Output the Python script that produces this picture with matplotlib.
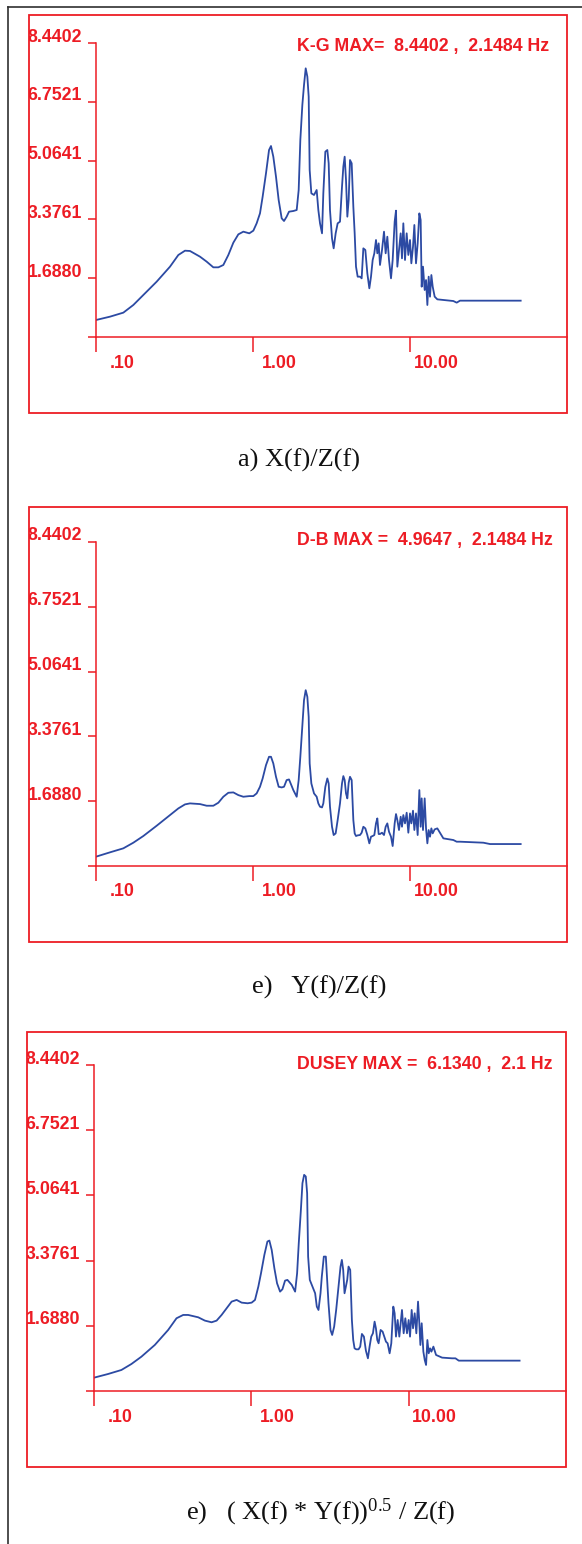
import matplotlib
matplotlib.use("Agg")
import matplotlib.pyplot as plt
from matplotlib.patches import Rectangle
from matplotlib.lines import Line2D
from matplotlib.transforms import ScaledTranslation, Bbox, TransformedBbox

# ---- data ----
freq_hz = [
    0.100, 0.1228, 0.1493, 0.1729, 0.2002, 0.2435, 0.2960, 0.3345, 0.3689, 0.3969,
    0.4597, 0.5069, 0.5589, 0.6015, 0.6471, 0.6965, 0.7495, 0.8065, 0.8679, 0.9475,
    1.005, 1.055, 1.108, 1.152, 1.210, 1.265, 1.302, 1.347, 1.401, 1.457,
    1.523, 1.576, 1.638, 1.696, 1.807, 1.898, 1.954, 2.002, 2.062, 2.113,
    2.166, 2.219, 2.263, 2.296, 2.353, 2.447, 2.544, 2.607, 2.672, 2.752,
    2.805, 2.889, 2.975, 3.034, 3.093, 3.186, 3.264, 3.361, 3.461, 3.582,
    3.689, 3.762, 3.836, 3.912, 3.989, 4.068, 4.148, 4.251, 4.356, 4.442,
    4.530, 4.642, 4.803, 4.922, 5.044, 5.194, 5.348, 5.508, 5.644, 5.784,
    5.927, 6.073, 6.193, 6.316, 6.441, 6.633, 6.830, 6.998, 7.171, 7.349,
    7.568, 7.755, 7.986, 8.144, 8.305, 8.510, 8.722, 8.892, 9.068, 9.294,
    9.523, 9.759, 10.00, 10.20, 10.45, 10.66, 10.92, 11.19, 11.47, 11.69,
    11.87, 12.10, 12.40, 12.65, 12.90, 13.15, 13.41, 13.68, 13.95, 14.36,
    14.93, 16.31, 18.88, 19.83, 20.82, 29.32, 32.33, 50.69,
]

kg_ratio = [
    0.488, 0.584, 0.699, 0.919, 1.206, 1.589, 2.019, 2.354, 2.478, 2.469,
    2.306, 2.163, 2.000, 2.000, 2.067, 2.354, 2.708, 2.947, 3.024, 2.976,
    3.053, 3.263, 3.550, 4.029, 4.699, 5.368, 5.483, 5.177, 4.603, 3.933,
    3.407, 3.330, 3.455, 3.598, 3.617, 3.646, 4.220, 5.656, 6.660, 7.234,
    7.713, 7.474, 6.900, 4.794, 4.124, 4.077, 4.220, 3.646, 3.263, 2.976,
    4.124, 5.321, 5.368, 4.986, 3.646, 2.833, 2.545, 2.976, 3.263, 3.311,
    4.316, 4.890, 5.177, 4.507, 3.455, 3.933, 5.081, 4.986, 3.742, 2.976,
    2.019, 1.732, 1.732, 1.684, 2.545, 2.498, 1.828, 1.397, 1.732, 2.211,
    2.402, 2.785, 2.402, 2.689, 2.067, 2.498, 3.024, 2.402, 2.880, 2.211,
    1.684, 2.211, 3.311, 3.627, 2.019, 2.498, 2.976, 2.258, 3.263, 2.211,
    2.976, 2.354, 2.785, 2.115, 2.593, 3.215, 2.115, 2.689, 3.550, 3.359,
    1.445, 2.019, 1.349, 1.636, 0.919, 1.732, 1.158, 1.780, 1.445, 1.158,
    1.081, 1.062, 1.033, 0.986, 1.043, 1.043, 1.043, 1.043,
]

db_ratio = [
    0.243, 0.356, 0.460, 0.607, 0.781, 1.049, 1.327, 1.500, 1.605, 1.631,
    1.613, 1.570, 1.570, 1.648, 1.804, 1.908, 1.917, 1.847, 1.804, 1.821,
    1.821, 1.891, 2.064, 2.281, 2.628, 2.845, 2.845, 2.671, 2.324, 2.064,
    2.047, 2.064, 2.238, 2.255, 1.977, 1.804, 2.238, 2.845, 3.669, 4.319,
    4.580, 4.406, 3.886, 2.671, 2.151, 1.891, 1.804, 1.631, 1.544, 1.526,
    1.631, 2.064, 2.281, 2.151, 1.544, 1.023, 0.807, 0.850, 1.197, 1.631,
    2.151, 2.342, 2.238, 1.891, 1.761, 2.168, 2.324, 2.238, 1.197, 0.850,
    0.781, 0.798, 0.807, 0.867, 1.023, 0.980, 0.807, 0.590, 0.763, 0.781,
    0.807, 1.110, 1.240, 0.833, 0.833, 0.867, 0.807, 1.023, 1.110, 0.893,
    0.763, 0.520, 1.110, 1.353, 1.197, 0.937, 1.284, 1.023, 1.327, 1.110,
    1.388, 0.867, 1.370, 1.110, 1.440, 0.937, 1.370, 0.807, 1.977, 1.023,
    1.761, 0.937, 1.761, 0.980, 0.590, 0.937, 0.763, 0.980, 0.850, 0.954,
    0.980, 0.720, 0.677, 0.633, 0.633, 0.607, 0.572, 0.572,
]

dusey_ratio = [
    0.345, 0.440, 0.544, 0.699, 0.889, 1.192, 1.580, 1.883, 1.969, 1.969,
    1.908, 1.822, 1.779, 1.822, 1.969, 2.142, 2.314, 2.358, 2.288, 2.271,
    2.288, 2.358, 2.703, 3.048, 3.523, 3.869, 3.895, 3.653, 3.178, 2.789,
    2.573, 2.634, 2.858, 2.876, 2.746, 2.573, 3.048, 3.826, 4.646, 5.380,
    5.596, 5.553, 5.121, 3.480, 2.876, 2.703, 2.530, 2.185, 2.098, 2.530,
    2.962, 3.480, 3.480, 2.876, 2.271, 1.580, 1.451, 1.667, 2.098, 2.703,
    3.221, 3.394, 3.135, 2.530, 2.703, 2.876, 3.221, 3.135, 1.839, 1.321,
    1.105, 1.079, 1.079, 1.149, 1.477, 1.408, 1.045, 0.846, 1.149, 1.408,
    1.494, 1.796, 1.623, 1.321, 1.235, 1.580, 1.537, 1.408, 1.278, 1.235,
    0.976, 1.235, 2.185, 2.012, 1.408, 1.839, 1.408, 1.753, 2.098, 1.494,
    1.883, 1.494, 1.839, 1.408, 2.098, 1.623, 2.012, 1.494, 2.314, 1.753,
    1.192, 1.753, 1.019, 0.803, 0.674, 1.321, 0.976, 1.105, 1.019, 1.149,
    0.933, 0.864, 0.846, 0.846, 0.786, 0.786, 0.786, 0.786,
]

y_ticks = [0.0, 1.6880, 3.3761, 5.0641, 6.7521, 8.4402]
y_tick_labels = ["", "1.6880", "3.3761", "5.0641", "6.7521", "8.4402"]
x_ticks = [0.1, 1.0, 10.0]
x_tick_labels = [".10", "1.00", "10.00"]

headers = [
    "K-G MAX=  8.4402 ,  2.1484 Hz",
    "D-B MAX =  4.9647 ,  2.1484 Hz",
    "DUSEY MAX =  6.1340 ,  2.1 Hz",
]
captions = [
    "a) X(f)/Z(f)",
    "e)   Y(f)/Z(f)",
    r"e)   ( X(f) * Y(f))$^{0.5}$ / Z(f)",
]
series = [kg_ratio, db_ratio, dusey_ratio]

RED = "#ed1c24"
BLUE = "#2c4aa3"
W, H, DPI = 582, 1544, 100

# layout in pixels: red box (l, t, r, b), plot area (l, top, bottom), header y, caption (x, y)
layout = [
    dict(box=(29, 15, 567, 413), area=(96, 43, 337), head_y=47, cap=(238, 460)),
    dict(box=(29, 507, 567, 942), area=(96, 542, 866), head_y=540, cap=(252, 987)),
    dict(box=(27, 1032, 566, 1467), area=(94, 1065, 1391), head_y=1064, cap=(186, 1512)),
]

plt.rcParams["mathtext.fontset"] = "custom"
plt.rcParams["mathtext.rm"] = "Liberation Serif"
plt.rcParams["mathtext.it"] = "Liberation Serif:italic"

SANS = ["Liberation Sans", "DejaVu Sans"]
SERIF = ["Liberation Serif", "DejaVu Serif"]


def fx(px):
    return px / W


def fy(py):
    return 1 - py / H


fig = plt.figure(figsize=(W / DPI, H / DPI), dpi=DPI)

# outer black frame (left and top edges only are visible)
fig.add_artist(Line2D([fx(8), fx(8)], [fy(7), fy(H)], color="#303030", lw=1.2))
fig.add_artist(Line2D([fx(8), fx(W)], [fy(7), fy(7)], color="#303030", lw=1.2))

for lay, vals, head, cap in zip(layout, series, headers, captions):
    bl, bt, br, bb = lay["box"]
    al, at, ab = lay["area"]

    box = Rectangle((fx(bl), fy(bb)), fx(br) - fx(bl), fy(bt) - fy(bb),
                    transform=fig.transFigure, fill=False, ec=RED, lw=1.3)
    fig.add_artist(box)
    clip = TransformedBbox(Bbox.from_extents(fx(bl), fy(bb), fx(br), fy(bt)),
                           fig.transFigure)

    ax = fig.add_axes([fx(al), fy(ab), fx(br) - fx(al), fy(at) - fy(ab)])
    ax.patch.set_alpha(0)
    ax.plot(freq_hz, vals, color=BLUE, lw=1.3)
    ax.set_xscale("log")
    ax.set_xlim(0.1, 100)
    ax.set_ylim(0, 8.4402)

    for s in ["top", "right"]:
        ax.spines[s].set_visible(False)
    for s in ["left", "bottom"]:
        ax.spines[s].set_color(RED)
        ax.spines[s].set_linewidth(1.1)

    ax.set_yticks(y_ticks)
    ax.set_yticklabels([])
    ax.set_xticks(x_ticks)
    ax.set_xticklabels([])
    ax.minorticks_off()
    ax.tick_params(axis="y", direction="out", length=5.8, width=1.1, color=RED)
    ax.tick_params(axis="x", direction="out", length=10.8, width=1.1, color=RED)

    ytrans = ax.get_yaxis_transform() + ScaledTranslation(-14 / DPI, 6 / DPI, fig.dpi_scale_trans)
    for v, lab in zip(y_ticks, y_tick_labels):
        t = ax.text(0, v, lab, transform=ytrans, ha="right", va="center",
                    color=RED, fontsize=12.8, fontweight="bold", family=SANS)
        t.set_clip_box(clip)
        t.set_clip_on(True)

    xtrans = ax.get_xaxis_transform() + ScaledTranslation(26 / DPI, -26 / DPI, fig.dpi_scale_trans)
    for v, lab in zip(x_ticks, x_tick_labels):
        ax.text(v, 0, lab, transform=xtrans, ha="center", va="center",
                color=RED, fontsize=12.8, fontweight="bold", family=SANS)

    fig.text(fx(297), fy(lay["head_y"]), head, ha="left", va="center",
             color=RED, fontsize=12.8, fontweight="bold", family=SANS)

    cx, cy = lay["cap"]
    fig.text(fx(cx), fy(cy), cap, ha="left", va="center",
             color="#111111", fontsize=19, family=SERIF)

fig.savefig("out.png", dpi=DPI)
